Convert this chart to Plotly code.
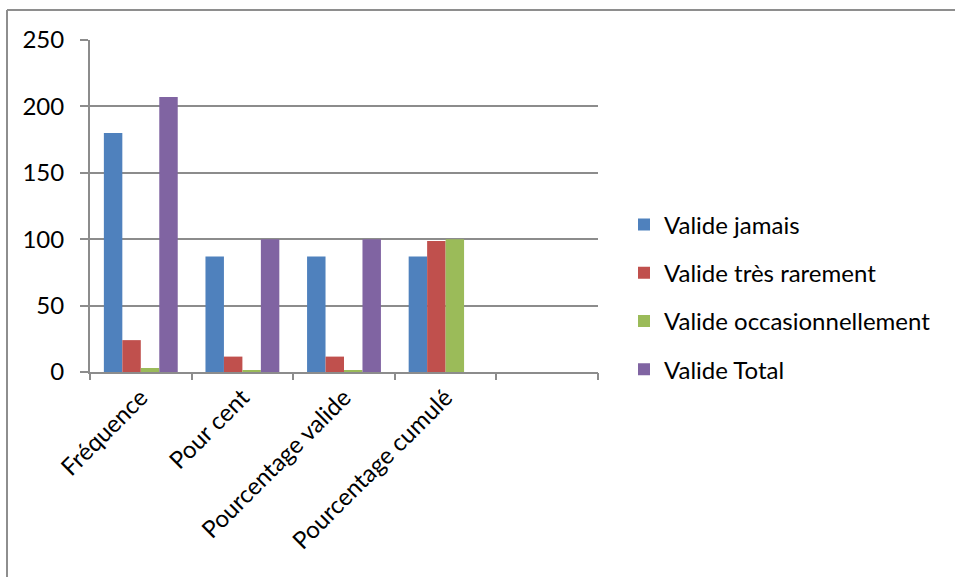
import plotly.graph_objects as go

# Data
categories = ["Fréquence", "Pour cent", "Pourcentage valide", "Pourcentage cumulé"]
series_names = ["Valide jamais", "Valide très rarement", "Valide occasionnellement", "Valide Total"]
valide_jamais = [180, 87.0, 87.0, 87.0]
valide_tres_rarement = [24, 11.6, 11.6, 98.6]
valide_occasionnellement = [3, 1.4, 1.4, 100.0]
valide_total = [207, 100, 100, None]
y_ticks = [0, 50, 100, 150, 200, 250]

colors = ["#4F81BD", "#C0504D", "#9BBB59", "#8064A2"]
all_series = [valide_jamais, valide_tres_rarement, valide_occasionnellement, valide_total]

FONT = "Lato"
FSIZE = 24
GRID = "#8c8c8c"

# Plot area geometry (pixels)
W, H = 955, 577
L, R, T, B = 90, 598, 40, 372

x_pos = list(range(len(categories)))
n_slots = 5  # four labelled groups plus an empty trailing slot

fig = go.Figure()
for name, vals, col in zip(series_names, all_series, colors):
    fig.add_trace(go.Bar(
        x=x_pos, y=vals, name=name,
        marker=dict(color=col, line=dict(width=0)),
        legendgroup=name,
    ))

# invisible trace that carries the boundary tick marks on a second x axis
fig.add_trace(go.Scatter(x=[-0.5, n_slots - 0.5], y=[None, None], xaxis="x2",
                         showlegend=False, hoverinfo="skip"))

def px_x(p):
    return (p - L) / (R - L)

def px_y(p):
    return (B - p) / (B - T)

fig.update_layout(
    width=W, height=H,
    margin=dict(l=L, r=W - R, t=T, b=H - B, autoexpand=False),
    paper_bgcolor="white", plot_bgcolor="white",
    barmode="group", bargap=0.273, bargroupgap=0,
    font=dict(family=FONT, size=FSIZE, color="#000000"),
    xaxis=dict(
        range=[-0.5, n_slots - 0.5],
        tickvals=x_pos, ticktext=categories, tickangle=-45,
        ticks="", showgrid=False, zeroline=False,
        showline=True, linecolor=GRID, linewidth=2,
        tickfont=dict(family=FONT, size=FSIZE, color="#000000"),
    ),
    xaxis2=dict(
        overlaying="x", side="bottom", anchor="y",
        range=[-0.5, n_slots - 0.5],
        tickvals=[i - 0.5 for i in range(n_slots + 1)],
        showticklabels=False, ticks="outside", ticklen=7, tickwidth=2, tickcolor=GRID,
        showgrid=False, zeroline=False, showline=False,
    ),
    yaxis=dict(
        range=[0, 250], tickvals=y_ticks,
        ticks="outside", ticklen=8, tickwidth=2, tickcolor=GRID,
        showgrid=True, gridcolor=GRID, gridwidth=2,
        zeroline=False, showline=True, linecolor=GRID, linewidth=2,
        ticklabelstandoff=11,
        tickfont=dict(family=FONT, size=FSIZE, color="#000000"),
    ),
    legend=dict(
        x=px_x(624), xanchor="left", y=px_y(297), yanchor="middle",
        font=dict(family=FONT, size=FSIZE, color="#000000"),
        traceorder="grouped", tracegroupgap=14,
        bgcolor="rgba(0,0,0,0)",
    ),
    shapes=[
        dict(type="line", xref="paper", yref="paper",
             x0=px_x(7), x1=px_x(7), y0=px_y(10), y1=px_y(H),
             line=dict(color="#8e8e8e", width=2)),
        dict(type="line", xref="paper", yref="paper",
             x0=px_x(7), x1=px_x(W), y0=px_y(10), y1=px_y(10),
             line=dict(color="#8e8e8e", width=2)),
    ],
)

fig.write_html("out.html")
